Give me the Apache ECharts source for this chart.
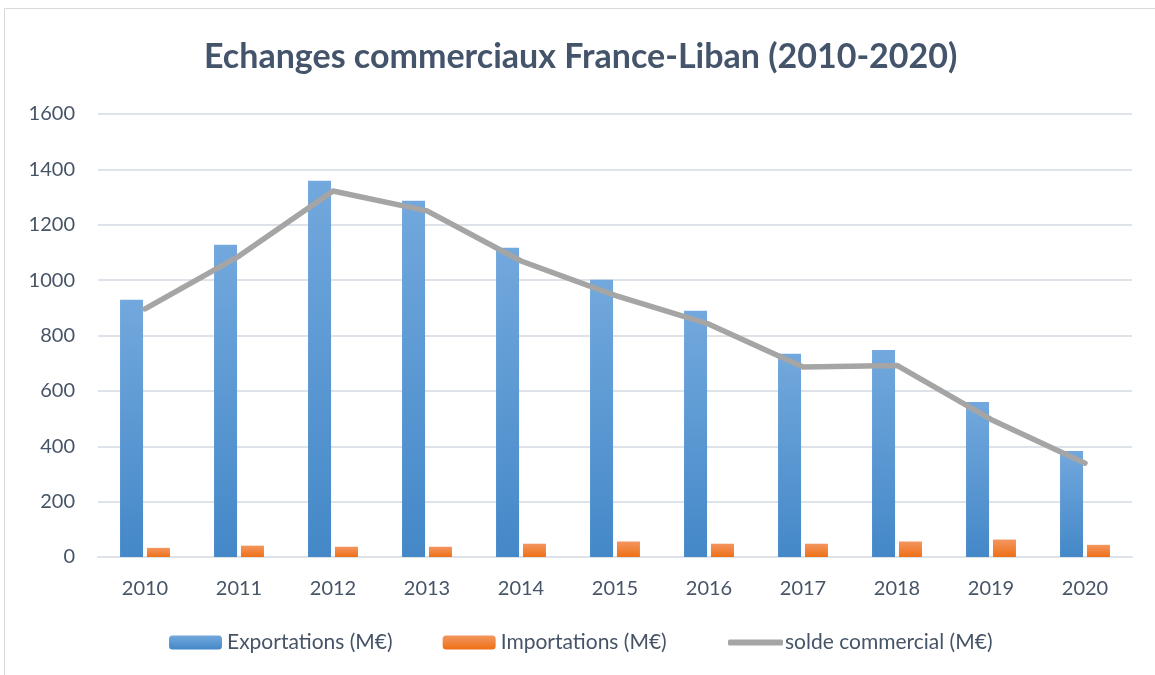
<!DOCTYPE html>
<html>
<head>
<meta charset="utf-8">
<script src="https://cdn.jsdelivr.net/npm/echarts@6/dist/echarts.min.js"></script>
<style>
  html, body { margin: 0; padding: 0; background: #fff; }
  #main { width: 1155px; height: 675px; }
</style>
</head>
<body>
<div id="main"></div>
<script>
// données
var annees = ['2010', '2011', '2012', '2013', '2014', '2015', '2016', '2017', '2018', '2019', '2020'];
var exportations = [929, 1128, 1359, 1287, 1117, 1001, 889, 734, 748, 560, 383];
var importations = [33, 41, 37, 37, 48, 56, 48, 48, 56, 63, 44];
var solde = [896, 1087, 1322, 1250, 1069, 945, 841, 686, 692, 497, 339];

var chart = echarts.init(document.getElementById('main'));
var police = 'Lato, "Open Sans", sans-serif';
var gris = '#DEE3E9';
var texte = '#465467';

var option = {
  backgroundColor: '#fff',
  animation: false,
  title: {
    text: 'Echanges commerciaux France-Liban (2010-2020)',
    left: 199,
    top: 35,
    textStyle: {
      color: '#44546A',
      fontSize: 34,
      fontWeight: 'bold',
      fontFamily: police
    }
  },
  graphic: [{
    type: 'rect',
    shape: { x: 4.5, y: 8.5, width: 1160, height: 680 },
    style: { fill: 'none', stroke: '#D9D9D9', lineWidth: 1 },
    silent: true
  }],
  legend: [
    {
      left: 164,
      top: 627,
      itemWidth: 53,
      itemHeight: 14,
      itemGap: 50,
      textStyle: { color: texte, fontSize: 21, fontFamily: police },
      data: ['Exportations (M€)', 'Importations (M€)']
    },
    {
      left: 723,
      top: 627,
      itemWidth: 55,
      itemHeight: 6,
      icon: 'roundRect',
      textStyle: { color: texte, fontSize: 21, fontFamily: police, padding: [0, 0, 0, -3] },
      data: ['solde commercial (M€)']
    }
  ],
  grid: {
    left: 98,
    right: 23,
    top: 114,
    bottom: 118
  },
  xAxis: {
    type: 'category',
    data: annees,
    axisTick: { show: false },
    axisLine: { lineStyle: { color: gris, width: 2 } },
    axisLabel: { color: texte, fontSize: 20, fontFamily: police, margin: 22 }
  },
  yAxis: {
    type: 'value',
    min: 0,
    max: 1600,
    interval: 200,
    axisLine: { show: false },
    axisTick: { show: false },
    axisLabel: {
      color: texte,
      fontSize: 20,
      fontFamily: police,
      margin: 23,
      formatter: function (v) { return String(v); }
    },
    splitLine: { lineStyle: { color: gris, width: 2 } }
  },
  series: [
    {
      name: 'Exportations (M€)',
      type: 'bar',
      data: exportations,
      barWidth: 23,
      barGap: '17%',
      itemStyle: {
        color: new echarts.graphic.LinearGradient(0, 0, 0, 1, [
          { offset: 0, color: '#72A8DD' },
          { offset: 1, color: '#4488C8' }
        ])
      }
    },
    {
      name: 'Importations (M€)',
      type: 'bar',
      data: importations,
      barWidth: 23,
      itemStyle: {
        color: new echarts.graphic.LinearGradient(0, 0, 0, 1, [
          { offset: 0, color: '#F39660' },
          { offset: 1, color: '#EE7016' }
        ])
      }
    },
    {
      name: 'solde commercial (M€)',
      type: 'line',
      data: solde,
      symbol: 'none',
      z: 5,
      itemStyle: { color: '#A5A5A5' },
      lineStyle: { color: '#A5A5A5', width: 5.5, cap: 'round', join: 'round' }
    }
  ]
};

chart.setOption(option);
</script>
</body>
</html>
